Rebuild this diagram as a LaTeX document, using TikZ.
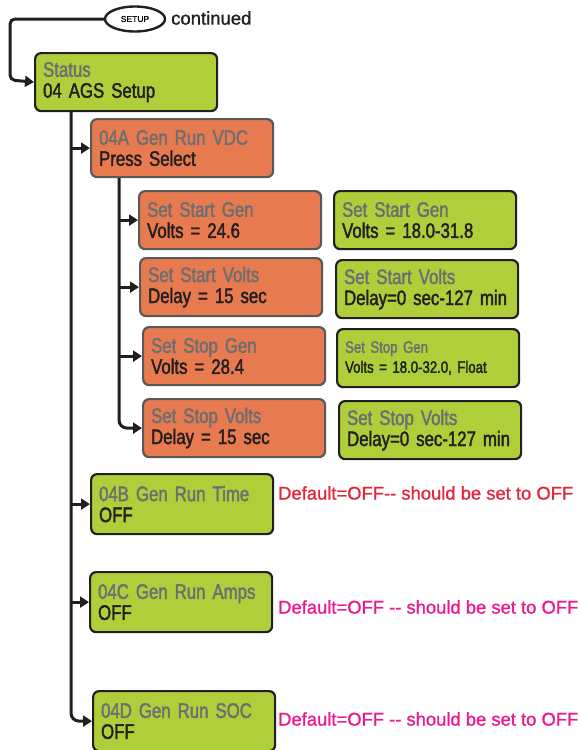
\documentclass[tikz,border=0pt]{standalone}
\usepackage{fontspec}
\setmainfont[FakeBold=1.1,Ligatures=NoCommon]{Liberation Sans}
\newfontfamily\condfont[FakeStretch=0.8,FakeBold=1.8,WordSpace=0.75]{Liberation Sans}
\usetikzlibrary{arrows.meta,shapes.geometric}

\definecolor{ink}{HTML}{231F20}
\definecolor{edge}{HTML}{58595B}
\definecolor{lime}{HTML}{AECF3A}
\definecolor{coral}{HTML}{E87A50}
\definecolor{dimtext}{HTML}{6D6E71}
\definecolor{warnred}{HTML}{E2273A}
\definecolor{warnpink}{HTML}{EC1A8C}

\tikzset{
  menubox/.style={rectangle, rounded corners=6pt, line width=2.2pt,
    minimum height=58pt, inner xsep=8pt, inner ysep=4pt, align=left,
    anchor=north west, text width=166pt, text=ink,
    font=\condfont\fontsize{21}{21}\selectfont},
  greenbox/.style={menubox, draw=ink, fill=lime},
  orangebox/.style={menubox, draw=edge, fill=coral},
  tallbox/.style={minimum height=60pt},
  wire/.style={draw=ink, line width=3pt},
  conn/.style={wire, -{Triangle[length=9pt,width=11pt]}},
  note/.style={anchor=west, inner sep=0pt, font=\fontsize{18.4}{20}\selectfont},
}
\newcommand{\menutitle}[1]{{\color{dimtext}#1}}

\begin{document}
\begin{tikzpicture}[x=1pt,y=-1pt]
\useasboundingbox (0,0) rectangle (580,750);

% entry from the setup menu
\node[ellipse, draw=ink, line width=2.4pt, fill=white, minimum width=60pt,
      minimum height=25pt, inner sep=0pt, font=\fontsize{8.5}{8}\selectfont]
      (setup) at (135,19) {SETUP};
\node[note, text=ink, font=\fontsize{18.5}{20}\selectfont] (cont) at (171,18) {continued};

% top level
\node[greenbox] (status) at (34,52) {\menutitle{Status}\\04 AGS Setup};

% 04A branch and its settings
\node[orangebox] (a04) at (90,118) {\menutitle{04A Gen Run VDC}\\Press Select};
\node[orangebox] (ssg) at (138,190) {\menutitle{Set Start Gen}\\Volts = 24.6};
\node[orangebox] (ssv) at (139,257) {\menutitle{Set Start Volts}\\Delay = 15 sec};
\node[orangebox] (spg) at (142,326) {\menutitle{Set Stop Gen}\\Volts = 28.4};
\node[orangebox] (spv) at (142,398) {\menutitle{Set Stop Volts}\\Delay = 15 sec};

% ranges
\node[greenbox] (rsg) at (333,190) {\menutitle{Set Start Gen}\\Volts = 18.0-31.8};
\node[greenbox] (rsv) at (335,259) {\menutitle{Set Start Volts}\\Delay=0 sec-127 min};
\node[greenbox, font=\condfont\fontsize{16.5}{20}\selectfont] (rpg) at (336,328)
      {\menutitle{Set Stop Gen}\\Volts = 18.0-32.0, Float};
\node[greenbox] (rpv) at (338,400) {\menutitle{Set Stop Volts}\\Delay=0 sec-127 min};

% remaining AGS triggers
\node[greenbox, tallbox] (b04) at (90,473) {\menutitle{04B Gen Run Time}\\OFF};
\node[greenbox, tallbox] (c04) at (89,571) {\menutitle{04C Gen Run Amps}\\OFF};
\node[greenbox, tallbox] (d04) at (92,690) {\menutitle{04D Gen Run SOC}\\OFF};

\node[note, text=warnred] (nb) at (278,493) {Default=OFF-{}- should be set to OFF};
\node[note, text=warnpink] (nc) at (278,607) {Default=OFF -{}- should be set to OFF};
\node[note, text=warnpink] (nd) at (278,719) {Default=OFF -{}- should be set to OFF};

% connectors
\coordinate (bend) at (10,80);
\draw[conn, rounded corners=5pt] (setup.west) -| (bend) -- (status.west);

\coordinate (t0) at ([xshift=37pt]status.south west);
\draw[conn, rounded corners=8pt] (t0) |- (d04.west);
\draw[conn] (t0 |- a04.west) -- (a04.west);
\draw[conn] (t0 |- b04.west) -- (b04.west);
\draw[conn] (t0 |- c04.west) -- (c04.west);

\coordinate (t1) at ([xshift=29pt]a04.south west);
\draw[conn, rounded corners=8pt] (t1) |- (spv.west);
\draw[conn] (t1 |- ssg.west) -- (ssg.west);
\draw[conn] (t1 |- ssv.west) -- (ssv.west);
\draw[conn] (t1 |- spg.west) -- (spg.west);
\end{tikzpicture}
\end{document}
